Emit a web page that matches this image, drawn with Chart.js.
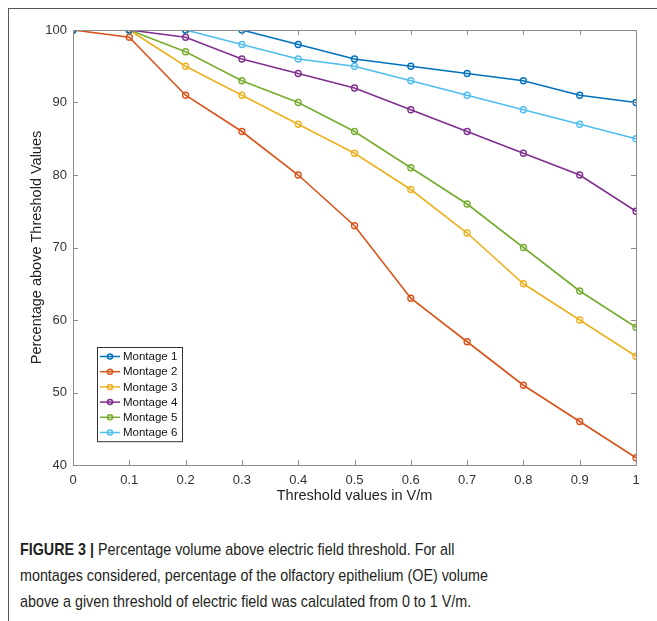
<!DOCTYPE html>
<html>
<head>
<meta charset="utf-8">
<script src="https://cdn.jsdelivr.net/npm/chart.js@4"></script>
<style>
  html, body { margin: 0; padding: 0; background: #fff; }
  body { width: 657px; height: 621px; position: relative; overflow: hidden; }
  #frame { position: absolute; left: 8px; top: 8px; width: 660px; height: 640px;
           border-top: 1.5px solid #555; border-left: 1.5px solid #555; }
  #wrap { position: absolute; left: 0; top: 0; width: 657px; height: 505px; }
  #caption { position: absolute; left: 20px; top: 537px; width: 760px;
             font-family: "Liberation Sans", Arial, sans-serif;
             font-size: 17px; line-height: 26px; color: #231f20;
             transform: scaleX(0.842); transform-origin: left top; }
  #caption b { font-weight: bold; }
</style>
</head>
<body>
<div id="frame"></div>
<div id="wrap"><canvas id="lineChart"></canvas></div>
<div id="caption"><b>FIGURE 3 |</b> Percentage volume above electric field threshold. For all<br>montages considered, percentage of the olfactory epithelium (OE) volume<br>above a given threshold of electric field was calculated from 0 to 1 V/m.</div>
<script>
const thresholds = [0, 0.1, 0.2, 0.3, 0.4, 0.5, 0.6, 0.7, 0.8, 0.9, 1];
const montage1 = [100, 100, 100, 100, 98, 96, 95, 94, 93, 91, 90];
const montage2 = [100, 99, 91, 86, 80, 73, 63, 57, 51, 46, 41];
const montage3 = [100, 100, 95, 91, 87, 83, 78, 72, 65, 60, 55];
const montage4 = [100, 100, 99, 96, 94, 92, 89, 86, 83, 80, 75];
const montage5 = [100, 100, 97, 93, 90, 86, 81, 76, 70, 64, 59];
const montage6 = [100, 100, 100, 98, 96, 95, 93, 91, 89, 87, 85];
const seriesNames = ['Montage 1', 'Montage 2', 'Montage 3', 'Montage 4', 'Montage 5', 'Montage 6'];
const seriesColors = ['#0072BD', '#D95319', '#EDB120', '#7E2F8E', '#77AC30', '#4DBEEE'];
const allSeries = [montage1, montage2, montage3, montage4, montage5, montage6];

const ctx = document.getElementById('lineChart').getContext('2d');
const axisColor = '#8c8c8c';
const textColor = '#333';
const fontFamily = '"Liberation Sans", Arial, sans-serif';

function toPoints(values) {
    return values.map((v, i) => ({ x: thresholds[i], y: v }));
}

// box, inward ticks and legend like a MATLAB figure
const matlabBox = {
    id: 'matlabBox',
    afterDatasetsDraw(chart) {
        const c = chart.ctx;
        const area = chart.chartArea;
        const xs = chart.scales.x;
        const ys = chart.scales.y;
        const tl = 5;
        c.save();
        c.strokeStyle = axisColor;
        c.lineWidth = 1;
        c.strokeRect(area.left + 0.5, area.top + 0.5, area.right - area.left, area.bottom - area.top);
        c.beginPath();
        xs.ticks.forEach(t => {
            const px = Math.round(xs.getPixelForValue(t.value)) + 0.5;
            c.moveTo(px, area.bottom); c.lineTo(px, area.bottom - tl);
            c.moveTo(px, area.top); c.lineTo(px, area.top + tl);
        });
        ys.ticks.forEach(t => {
            const py = Math.round(ys.getPixelForValue(t.value)) + 0.5;
            c.moveTo(area.left, py); c.lineTo(area.left + tl, py);
            c.moveTo(area.right, py); c.lineTo(area.right - tl, py);
        });
        c.stroke();

        // legend
        const lx = 97, ly = 347, lw = 85, rowH = 15.2;
        const n = chart.data.datasets.length;
        c.fillStyle = '#fff';
        c.fillRect(lx, ly, lw, n * rowH + 3);
        c.strokeStyle = '#333';
        c.strokeRect(lx + 0.5, ly + 0.5, lw, n * rowH + 3);
        c.font = '11.5px ' + fontFamily;
        c.textBaseline = 'middle';
        chart.data.datasets.forEach((ds, i) => {
            const y = ly + 9.5 + i * rowH;
            c.strokeStyle = ds.borderColor;
            c.lineWidth = 1.5;
            c.beginPath();
            c.moveTo(lx + 3, y); c.lineTo(lx + 23, y);
            c.stroke();
            c.beginPath();
            c.arc(lx + 13, y, 2.5, 0, Math.PI * 2);
            c.stroke();
            c.fillStyle = '#111';
            c.fillText(ds.label, lx + 26, y + 0.5);
        });
        c.restore();
    }
};

const lineChart = new Chart(ctx, {
    type: 'line',
    data: {
        datasets: allSeries.map((vals, i) => ({
            label: seriesNames[i],
            data: toPoints(vals),
            borderColor: seriesColors[i],
            backgroundColor: 'rgba(0,0,0,0)',
            pointBackgroundColor: 'rgba(0,0,0,0)',
            pointBorderColor: seriesColors[i],
            pointRadius: 3,
            pointBorderWidth: 1.3,
            borderWidth: 1.6,
            tension: 0
        }))
    },
    options: {
        responsive: true,
        maintainAspectRatio: false,
        animation: false,
        layout: { padding: { top: 30, right: 21, left: 0, bottom: 0 } },
        plugins: {
            legend: { display: false },
            tooltip: { enabled: false }
        },
        scales: {
            x: {
                type: 'linear',
                min: 0, max: 1,
                grid: { display: false, drawTicks: false },
                border: { display: false },
                ticks: {
                    stepSize: 0.1,
                    padding: 8,
                    color: textColor,
                    font: { family: fontFamily, size: 13 },
                    maxRotation: 0,
                    callback: v => String(+v.toFixed(1))
                },
                title: {
                    display: true,
                    text: 'Threshold values in V/m',
                    color: '#222',
                    font: { family: fontFamily, size: 14.5 },
                    padding: { top: 2, bottom: 0 }
                },
                afterFit: scale => { scale.height = 40; }
            },
            y: {
                min: 40, max: 100,
                grid: { display: false, drawTicks: false },
                border: { display: false },
                ticks: {
                    stepSize: 10,
                    padding: 6,
                    color: textColor,
                    font: { family: fontFamily, size: 13 }
                },
                title: {
                    display: true,
                    text: 'Percentage above Threshold Values',
                    color: '#222',
                    font: { family: fontFamily, size: 14.5 },
                    padding: { top: 28, bottom: 0 }
                },
                afterFit: scale => { scale.width = 73; }
            }
        }
    },
    plugins: [matlabBox]
});
</script>
</body>
</html>
